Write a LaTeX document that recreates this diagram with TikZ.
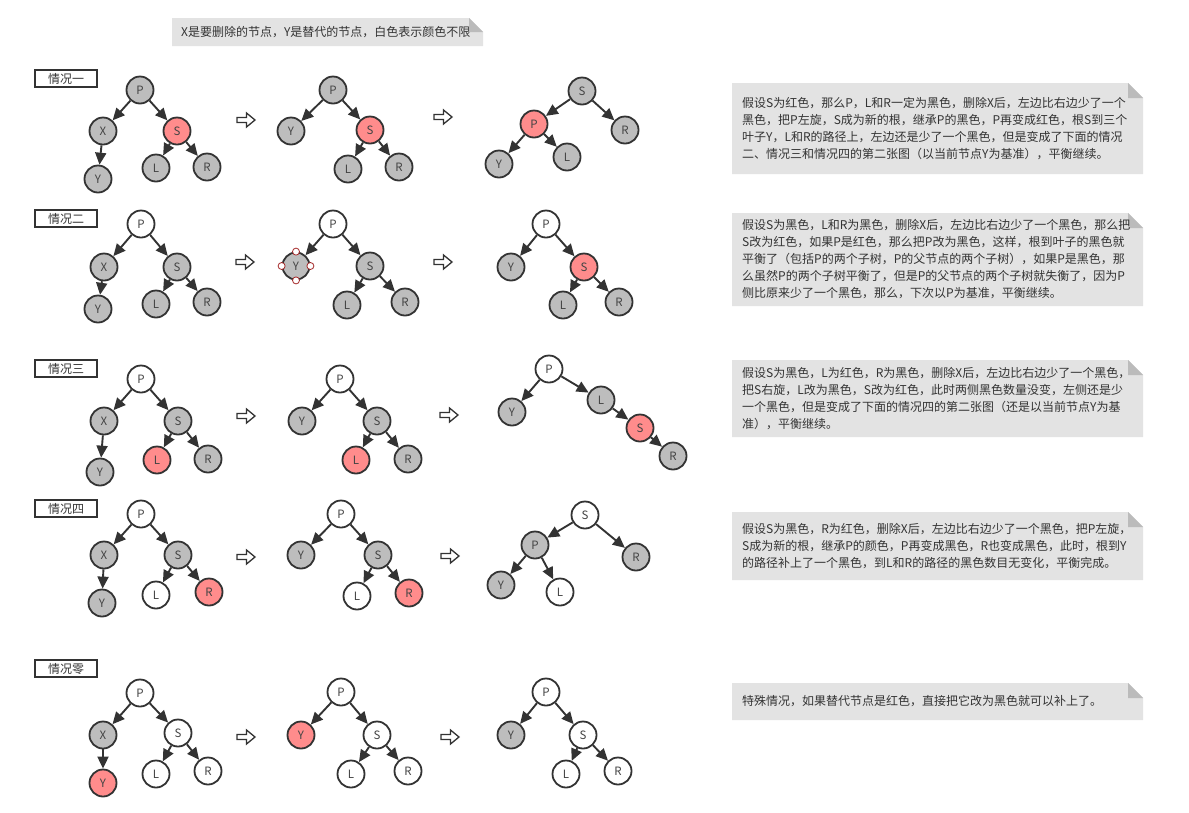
\documentclass[tikz,border=0pt]{standalone}
\usepackage{fontspec}
\setmainfont{Noto Sans CJK SC}
\usetikzlibrary{arrows.meta}
\definecolor{b}{HTML}{333333}
\definecolor{g}{HTML}{444444}
\definecolor{gy}{HTML}{BDBDBD}
\definecolor{pk}{HTML}{FF8C8C}
\definecolor{nt}{HTML}{E3E3E3}
\definecolor{fd}{HTML}{BBBBBB}
\definecolor{hd}{HTML}{A52A2A}

\begin{document}
\begin{tikzpicture}[x=1pt, y=-1pt,
	nd/.style={circle, draw=b, line width=1.8pt, minimum size=27pt, inner sep=0pt, text=g, font=\fontsize{11.5}{11.5}\selectfont},
	gr/.style={nd, fill=gy},
	rd/.style={nd, fill=pk},
	wt/.style={nd, fill=white},
	ed/.style={draw=b, line width=1.9pt, -{Triangle[length=12pt, width=11pt]}},
	lbl/.style={draw=b, line width=1.4pt, minimum width=62pt, minimum height=17pt, inner sep=0pt, text=b, font=\fontsize{12}{12}\selectfont},
	txt/.style={anchor=west, inner sep=0pt, align=left, text=b, font=\fontsize{12}{17}\selectfont},
	hnd/.style={circle, draw=hd, fill=white, line width=0.8pt, minimum size=7pt, inner sep=0pt},
	harr/.pic={\draw[line width=1.3pt, draw=b, fill=white] (-9,-2.5) -- (0.5,-2.5) -- (0.5,-7) -- (9,0) -- (0.5,7) -- (0.5,2.5) -- (-9,2.5) -- cycle;}
	]
	\useasboundingbox (0,0) rectangle (1189,812);
	
	% top note
	\fill[nt] (172,18) -- (469,18) -- (483,32) -- (483,46) -- (172,46) -- cycle;
	\fill[fd] (469,18) -- (469,32) -- (483,32) -- cycle;
	\node[txt] (top) at (181,32) {X是要删除的节点，Y是替代的节点，白色表示颜色不限};
	
	% case one
	\node[lbl] (c1) at (66,78.5) {情况一};
	\node[gr] (P1a) at (140,90) {P};
	\node[gr] (X1a) at (103,131) {X};
	\node[rd] (S1a) at (177,131) {S};
	\node[gr] (Y1a) at (98,179) {Y};
	\node[gr] (L1a) at (156,168) {L};
	\node[gr] (R1a) at (207,167) {R};
	\foreach \a/\b in {P1a/X1a, P1a/S1a, X1a/Y1a, S1a/L1a, S1a/R1a} \draw[ed] (\a) -- (\b);
	\pic at (246,120) {harr};
	\node[gr] (P1b) at (333,90) {P};
	\node[gr] (Y1b) at (291,131) {Y};
	\node[rd] (S1b) at (370,130) {S};
	\node[gr] (L1b) at (348,169) {L};
	\node[gr] (R1b) at (399,167) {R};
	\foreach \a/\b in {P1b/Y1b, P1b/S1b, S1b/L1b, S1b/R1b} \draw[ed] (\a) -- (\b);
	\pic at (443,117) {harr};
	\node[gr] (S1c) at (582,91) {S};
	\node[rd] (P1c) at (534,124) {P};
	\node[gr] (R1c) at (625,130) {R};
	\node[gr] (Y1c) at (499,164) {Y};
	\node[gr] (L1c) at (567,157) {L};
	\foreach \a/\b in {S1c/P1c, S1c/R1c, P1c/Y1c, P1c/L1c} \draw[ed] (\a) -- (\b);
	\fill[nt] (732,83) -- (1128,83) -- (1143,98) -- (1143,174) -- (732,174) -- cycle;
	\fill[fd] (1128,83) -- (1128,98) -- (1143,98) -- cycle;
	\node[txt] (n1) at (742,128.5) {假设S为红色，那么P，L和R一定为黑色，删除X后，左边比右边少了一个\\黑色，把P左旋，S成为新的根，继承P的黑色，P再变成红色，根S到三个\\叶子Y，L和R的路径上，左边还是少了一个黑色，但是变成了下面的情况\\二、情况三和情况四的第二张图（以当前节点Y为基准），平衡继续。};
	
	% case two
	\node[lbl] (c2) at (66,218.5) {情况二};
	\node[wt] (P2a) at (141,224) {P};
	\node[gr] (X2a) at (104,267) {X};
	\node[gr] (S2a) at (177,267) {S};
	\node[gr] (Y2a) at (98,309) {Y};
	\node[gr] (L2a) at (156,304) {L};
	\node[gr] (R2a) at (207,302) {R};
	\foreach \a/\b in {P2a/X2a, P2a/S2a, X2a/Y2a, S2a/L2a, S2a/R2a} \draw[ed] (\a) -- (\b);
	\pic at (245,262) {harr};
	\node[wt] (P2b) at (333,224) {P};
	\node[gr] (Y2b) at (296,266) {Y};
	\node[gr] (S2b) at (370,266) {S};
	\node[gr] (L2b) at (347,305) {L};
	\node[gr] (R2b) at (405,302) {R};
	\foreach \a/\b in {P2b/Y2b, P2b/S2b, S2b/L2b, S2b/R2b} \draw[ed] (\a) -- (\b);
	\foreach \s in {north, south, east, west} \node[hnd] (h\s) at (Y2b.\s) {};
	\pic at (443,262) {harr};
	\node[wt] (P2c) at (546,224) {P};
	\node[gr] (Y2c) at (511,267) {Y};
	\node[rd] (S2c) at (584,267) {S};
	\node[gr] (L2c) at (563,305) {L};
	\node[gr] (R2c) at (619,302) {R};
	\foreach \a/\b in {P2c/Y2c, P2c/S2c, S2c/L2c, S2c/R2c} \draw[ed] (\a) -- (\b);
	\fill[nt] (732,213) -- (1128,213) -- (1143,228) -- (1143,306) -- (732,306) -- cycle;
	\fill[fd] (1128,213) -- (1128,228) -- (1143,228) -- cycle;
	\node[txt] (n2) at (742,259.5) {假设S为黑色，L和R为黑色，删除X后，左边比右边少了一个黑色，那么把\\S改为红色，如果P是红色，那么把P改为黑色，这样，根到叶子的黑色就\\平衡了（包括P的两个子树，P的父节点的两个子树），如果P是黑色，那\\么虽然P的两个子树平衡了，但是P的父节点的两个子树就失衡了，因为P\\侧比原来少了一个黑色，那么，下次以P为基准，平衡继续。};
	
	% case three
	\node[lbl] (c3) at (66,368.5) {情况三};
	\node[wt] (P3a) at (141,379) {P};
	\node[gr] (X3a) at (104,421) {X};
	\node[gr] (S3a) at (178,421) {S};
	\node[gr] (Y3a) at (100,472) {Y};
	\node[rd] (L3a) at (157,460) {L};
	\node[gr] (R3a) at (208,459) {R};
	\foreach \a/\b in {P3a/X3a, P3a/S3a, X3a/Y3a, S3a/L3a, S3a/R3a} \draw[ed] (\a) -- (\b);
	\pic at (246,416) {harr};
	\node[wt] (P3b) at (340,379) {P};
	\node[gr] (Y3b) at (302,421) {Y};
	\node[gr] (S3b) at (377,421) {S};
	\node[rd] (L3b) at (356,460) {L};
	\node[gr] (R3b) at (408,459) {R};
	\foreach \a/\b in {P3b/Y3b, P3b/S3b, S3b/L3b, S3b/R3b} \draw[ed] (\a) -- (\b);
	\pic at (449,415) {harr};
	\node[wt] (P3c) at (549,369) {P};
	\node[gr] (Y3c) at (512,412) {Y};
	\node[gr] (L3c) at (601,400) {L};
	\node[rd] (S3c) at (640,428) {S};
	\node[gr] (R3c) at (673,456) {R};
	\foreach \a/\b in {P3c/Y3c, P3c/L3c, L3c/S3c, S3c/R3c} \draw[ed] (\a) -- (\b);
	\fill[nt] (732,360) -- (1128,360) -- (1143,375) -- (1143,437) -- (732,437) -- cycle;
	\fill[fd] (1128,360) -- (1128,375) -- (1143,375) -- cycle;
	\node[txt] (n3) at (742,398.5) {假设S为黑色，L为红色，R为黑色，删除X后，左边比右边少了一个黑色，\\把S右旋，L改为黑色，S改为红色，此时两侧黑色数量没变，左侧还是少\\一个黑色，但是变成了下面的情况四的第二张图（还是以当前节点Y为基\\准），平衡继续。};
	
	% case four
	\node[lbl] (c4) at (66,508.5) {情况四};
	\node[wt] (P4a) at (141,514) {P};
	\node[gr] (X4a) at (104,555) {X};
	\node[gr] (S4a) at (178,555) {S};
	\node[gr] (Y4a) at (102,603) {Y};
	\node[wt] (L4a) at (156,595) {L};
	\node[rd] (R4a) at (209,592) {R};
	\foreach \a/\b in {P4a/X4a, P4a/S4a, X4a/Y4a, S4a/L4a, S4a/R4a} \draw[ed] (\a) -- (\b);
	\pic at (246,557) {harr};
	\node[wt] (P4b) at (341,514) {P};
	\node[gr] (Y4b) at (301,555) {Y};
	\node[gr] (S4b) at (378,555) {S};
	\node[wt] (L4b) at (357,596) {L};
	\node[rd] (R4b) at (409,593) {R};
	\foreach \a/\b in {P4b/Y4b, P4b/S4b, S4b/L4b, S4b/R4b} \draw[ed] (\a) -- (\b);
	\pic at (450,556) {harr};
	\node[wt] (S4c) at (585,515) {S};
	\node[gr] (P4c) at (535,545) {P};
	\node[gr] (R4c) at (636,557) {R};
	\node[gr] (Y4c) at (501,585) {Y};
	\node[wt] (L4c) at (560,592) {L};
	\foreach \a/\b in {S4c/P4c, S4c/R4c, P4c/Y4c, P4c/L4c} \draw[ed] (\a) -- (\b);
	\fill[nt] (732,512) -- (1128,512) -- (1143,527) -- (1143,580) -- (732,580) -- cycle;
	\fill[fd] (1128,512) -- (1128,527) -- (1143,527) -- cycle;
	\node[txt] (n4) at (742,546) {假设S为黑色，R为红色，删除X后，左边比右边少了一个黑色，把P左旋，\\S成为新的根，继承P的颜色，P再变成黑色，R也变成黑色，此时，根到Y\\的路径补上了一个黑色，到L和R的路径的黑色数目无变化，平衡完成。};
	
	% case zero
	\node[lbl] (c0) at (66,668.5) {情况零};
	\node[wt] (P0a) at (140,693) {P};
	\node[gr] (X0a) at (103,735) {X};
	\node[wt] (S0a) at (178,733) {S};
	\node[rd] (Y0a) at (103,783) {Y};
	\node[wt] (L0a) at (156,774) {L};
	\node[wt] (R0a) at (208,771) {R};
	\foreach \a/\b in {P0a/X0a, P0a/S0a, X0a/Y0a, S0a/L0a, S0a/R0a} \draw[ed] (\a) -- (\b);
	\pic at (246,737) {harr};
	\node[wt] (P0b) at (341,692) {P};
	\node[rd] (Y0b) at (301,735) {Y};
	\node[wt] (S0b) at (377,735) {S};
	\node[wt] (L0b) at (351,774) {L};
	\node[wt] (R0b) at (408,771) {R};
	\foreach \a/\b in {P0b/Y0b, P0b/S0b, S0b/L0b, S0b/R0b} \draw[ed] (\a) -- (\b);
	\pic at (450,737) {harr};
	\node[wt] (P0c) at (546,692) {P};
	\node[gr] (Y0c) at (511,735) {Y};
	\node[wt] (S0c) at (583,735) {S};
	\node[wt] (L0c) at (566,774) {L};
	\node[wt] (R0c) at (618,771) {R};
	\foreach \a/\b in {P0c/Y0c, P0c/S0c, S0c/L0c, S0c/R0c} \draw[ed] (\a) -- (\b);
	\fill[nt] (732,683) -- (1128,683) -- (1143,698) -- (1143,720) -- (732,720) -- cycle;
	\fill[fd] (1128,683) -- (1128,698) -- (1143,698) -- cycle;
	\node[txt] (n0) at (742,701.5) {特殊情况，如果替代节点是红色，直接把它改为黑色就可以补上了。};
\end{tikzpicture}
\end{document}
